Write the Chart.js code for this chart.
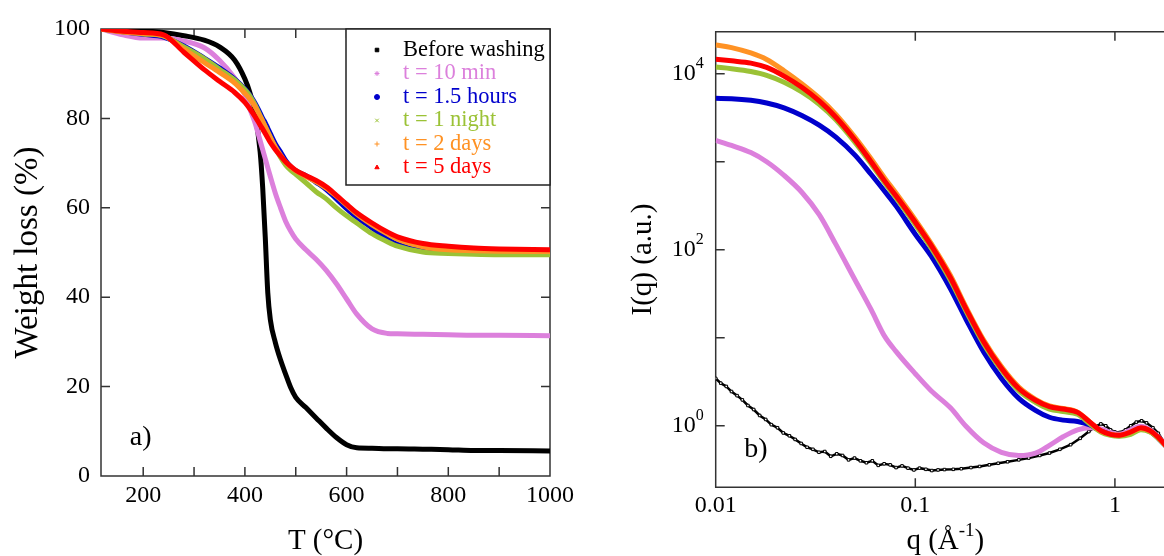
<!DOCTYPE html>
<html lang="en">
<head>
  <meta charset="UTF-8" />
  <title>TGA and SAXS vs washing time</title>
  <script src="https://cdn.jsdelivr.net/npm/chart.js"></script>
  <style>
    html, body { margin: 0; padding: 0; background: #fff; width: 1164px; height: 556px; overflow: hidden; }
    .panel { position: absolute; top: 0; height: 556px; }
    #tgaBox { left: 0; width: 580px; }
    #saxsBox { left: 580px; width: 625px; }
  </style>
</head>
<body>
  <!-- a) thermogravimetry -->
  <div class="panel" id="tgaBox"><canvas id="tgaChart" width="580" height="556"></canvas></div>
  <!-- b) scattering, right edge runs a bit past the window like the original figure -->
  <div class="panel" id="saxsBox"><canvas id="saxsChart" width="625" height="556"></canvas></div>

  <script>
    // ---- data: a) weight loss (%) on a shared temperature grid (°C)
    const tgaTemp = [117, 160, 200, 240, 280, 320, 350, 380, 400, 410, 420, 430, 435, 440, 445, 450, 460, 470, 480, 490,
                     500, 520, 540, 560, 580, 600, 620, 650, 680, 700, 750, 800, 850, 900, 1000];
    const wBefore   = [100, 99.8, 99.6, 99.2, 98.5, 97.5, 96.0, 93.0, 88.8, 85.7, 81.0, 72.5, 64.5, 53.5, 41.0, 35.0, 29.8, 26.0, 22.8, 19.8,
                       17.6, 15.3, 13.0, 10.7, 8.6, 7.0, 6.3, 6.2, 6.1, 6.1, 6.0, 5.9, 5.7, 5.7, 5.6];
    const wTenMin   = [100, 98.7, 98.0, 98.0, 97.3, 95.8, 93.0, 89.0, 85.3, 82.0, 79.0, 75.0, 73.0, 71.0, 69.0, 67.0, 63.2, 60.0, 57.0, 54.8,
                       53.0, 50.6, 48.5, 46.0, 43.0, 39.6, 36.2, 32.9, 31.9, 31.8, 31.7, 31.6, 31.5, 31.5, 31.4];
    const wHours    = [100, 99.4, 98.8, 98.2, 96.2, 93.5, 91.3, 88.8, 86.6, 85.2, 83.4, 81.2, 80.0, 79.0, 77.8, 76.6, 74.3, 72.5, 70.6, 69.2,
                       68.3, 67.2, 65.7, 64.1, 62.0, 59.8, 57.9, 55.5, 53.0, 51.8, 50.4, 50.2, 50.1, 50.0, 50.0];
    const wNight    = [100, 99.4, 98.9, 98.4, 96.0, 93.4, 91.0, 88.6, 86.4, 85.0, 83.0, 80.6, 79.4, 78.2, 77.0, 75.8, 73.4, 71.3, 69.6, 68.4,
                       67.5, 65.6, 63.6, 62.0, 60.0, 58.2, 56.6, 54.2, 52.4, 51.4, 50.1, 49.8, 49.6, 49.5, 49.5];
    const wTwoDays  = [100, 99.3, 99.0, 98.5, 95.5, 92.5, 90.3, 87.9, 85.6, 84.3, 82.6, 80.4, 79.3, 78.1, 76.9, 75.7, 73.6, 71.8, 70.2, 69.1,
                       68.3, 67.0, 65.8, 64.4, 62.6, 60.6, 58.6, 56.2, 54.2, 53.0, 51.3, 50.6, 50.4, 50.3, 50.2];
    const wFiveDays = [100, 99.5, 99.2, 98.7, 94.8, 90.9, 88.3, 85.8, 83.6, 82.1, 80.4, 78.5, 77.6, 76.6, 75.6, 74.6, 73.0, 71.6, 70.3, 69.3,
                       68.4, 67.2, 66.1, 64.7, 62.8, 60.8, 58.9, 56.6, 54.6, 53.5, 52.0, 51.4, 51.0, 50.8, 50.6];
    const tgaTempLabels = [200, 400, 600, 800, 1000];
    const tgaTempMarks = [200, 300, 400, 500, 600, 700, 800, 900];
    const tgaWeightLabels = [0, 20, 40, 60, 80, 100];

    // ---- data: b) I(q) on a shared q grid (1/Å), the unwashed sample is noisier and sampled on its own
    const saxsQ = [0.01, 0.012, 0.015, 0.018, 0.022, 0.027, 0.033, 0.04, 0.05, 0.06, 0.07, 0.08, 0.1, 0.12, 0.15, 0.18,
                   0.22, 0.27, 0.33, 0.4, 0.47, 0.55, 0.65, 0.75, 0.85, 0.95, 1.05, 1.2, 1.35, 1.5, 1.65, 1.85];
    const iTenMin   = [1750, 1530, 1270, 1000, 700, 450, 250, 115, 45, 21, 10.5, 7.0, 3.9, 2.5, 1.6, 0.98,
                       0.64, 0.5, 0.46, 0.49, 0.6, 0.75, 0.9, 0.95, 0.92, 0.84, 0.8, 0.9, 0.99, 0.9, 0.75, 0.55];
    const iHours    = [5250, 5200, 4980, 4650, 4100, 3350, 2600, 1900, 1180, 720, 465, 315, 150, 85, 36, 16,
                       6.9, 3.45, 2.05, 1.5, 1.25, 1.16, 1.12, 1.02, 0.87, 0.8, 0.77, 0.83, 0.92, 0.86, 0.72, 0.55];
    const iNight    = [11900, 11400, 10600, 9600, 8000, 6200, 4500, 3000, 1650, 950, 580, 390, 193, 105, 45, 19.8,
                       8.5, 4.3, 2.5, 1.85, 1.55, 1.45, 1.35, 1.05, 0.85, 0.78, 0.76, 0.8, 0.9, 0.85, 0.72, 0.55];
    const iTwoDays  = [21200, 19800, 17200, 14500, 10800, 7700, 5300, 3450, 1880, 1080, 660, 440, 218, 118, 51, 22,
                       9.4, 4.7, 2.75, 2.0, 1.68, 1.57, 1.43, 1.1, 0.87, 0.8, 0.78, 0.85, 0.93, 0.87, 0.73, 0.55];
    const iFiveDays = [14600, 14000, 13200, 11800, 9400, 7000, 4900, 3200, 1750, 1000, 610, 410, 205, 112, 48, 21,
                       9.0, 4.5, 2.65, 1.95, 1.65, 1.55, 1.42, 1.1, 0.88, 0.8, 0.78, 0.85, 0.95, 0.88, 0.74, 0.55];
    const saxsQBefore = [0.0100, 0.0106, 0.0113, 0.0120, 0.0128, 0.0136, 0.0145, 0.0155, 0.0166, 0.0178,
                         0.0190, 0.0204, 0.0218, 0.0234, 0.0250, 0.0268, 0.0287, 0.0307, 0.0329, 0.0352,
                         0.0377, 0.0404, 0.0432, 0.0463, 0.0496, 0.0531, 0.0569, 0.0609, 0.0652, 0.0698,
                         0.0748, 0.0801, 0.0858, 0.0919, 0.0984, 0.105, 0.113, 0.121, 0.130, 0.140,
                         0.155, 0.170, 0.190, 0.210, 0.235, 0.260, 0.290, 0.330, 0.370, 0.420,
                         0.470, 0.530, 0.600, 0.670, 0.740, 0.800, 0.850, 0.900, 0.950, 1.000,
                         1.060, 1.130, 1.200, 1.280, 1.360, 1.440, 1.550, 1.650, 1.750, 1.850];
    const iBefore = [3.45, 3.05, 2.8, 2.45, 2.2, 1.97, 1.7, 1.53, 1.31, 1.18,
                     1.03, 0.95, 0.83, 0.77, 0.70, 0.63, 0.57, 0.54, 0.50, 0.51,
                     0.45, 0.48, 0.46, 0.41, 0.43, 0.40, 0.38, 0.40, 0.355, 0.37,
                     0.36, 0.335, 0.35, 0.33, 0.315, 0.33, 0.32, 0.31, 0.315, 0.318,
                     0.32, 0.325, 0.335, 0.345, 0.36, 0.375, 0.39, 0.41, 0.43, 0.46,
                     0.49, 0.54, 0.61, 0.72, 0.86, 0.98, 1.05, 1.0, 0.9, 0.85,
                     0.84, 0.9, 1.0, 1.1, 1.14, 1.08, 0.95, 0.82, 0.67, 0.55];
    const saxsQLabels = [0.01, 0.1, 1];
    const saxsIntensityLabels = [1, 100, 10000];
    const saxsIntensityMarks = [1, 10, 100, 1000, 10000];

    const seriesLabels = ['Before washing', 't = 10 min', 't = 1.5 hours', 't = 1 night', 't = 2 days', 't = 5 days'];
    const seriesColors = ['#000000', '#dc80dc', '#0000cc', '#9bc236', '#ff9224', '#ff0000'];
    const seriesMarkers = ['rect', 'star', 'circle', 'crossRot', 'cross', 'triangle'];

    const serif = "'Liberation Serif', 'Times New Roman', serif";
    Chart.defaults.font.family = serif;
    Chart.defaults.color = '#000';

    function series(i, xs, ys) {
      return {
        label: seriesLabels[i],
        data: xs.map((x, k) => ({ x: x, y: ys[k] })),
        borderColor: seriesColors[i],
        backgroundColor: seriesColors[i],
        pointStyle: seriesMarkers[i],
        showLine: true,
        borderWidth: 5,
        pointRadius: 0,
        cubicInterpolationMode: 'monotone',
        order: 5 - i   // last series ends up on top
      };
    }

    // box frame with inward ticks on all four sides
    const frameTicks = {
      id: 'frameTicks',
      beforeDatasetsDraw(chart, args, o) {
        const { ctx, chartArea: a, scales } = chart;
        ctx.save();
        ctx.strokeStyle = o.color;
        ctx.lineWidth = o.width;
        ctx.beginPath();
        ctx.rect(a.left, a.top, a.right - a.left, a.bottom - a.top);
        o.xMarks.forEach(v => {
          const px = scales.x.getPixelForValue(v);
          ctx.moveTo(px, a.bottom); ctx.lineTo(px, a.bottom - o.length);
          ctx.moveTo(px, a.top); ctx.lineTo(px, a.top + o.length);
        });
        o.yMarks.forEach(v => {
          const py = scales.y.getPixelForValue(v);
          ctx.moveTo(a.left, py); ctx.lineTo(a.left + o.length, py);
          ctx.moveTo(a.right, py); ctx.lineTo(a.right - o.length, py);
        });
        ctx.stroke();
        ctx.restore();
      }
    };

    // legend box in the upper right corner of panel a
    const boxLegend = {
      id: 'boxLegend',
      afterDatasetsDraw(chart, args, o) {
        const { ctx, chartArea: a } = chart;
        ctx.save();
        ctx.fillStyle = '#fff';
        ctx.fillRect(o.left, a.top, a.right - o.left, o.bottom - a.top);
        ctx.strokeStyle = '#222';
        ctx.lineWidth = 1.5;
        ctx.strokeRect(o.left, a.top, a.right - o.left, o.bottom - a.top);
        ctx.font = o.font;
        ctx.textAlign = 'left';
        ctx.textBaseline = 'middle';
        chart.data.datasets.forEach((ds, i) => {
          const y = o.firstRow + i * o.rowGap;
          ctx.fillStyle = ds.borderColor;
          ctx.strokeStyle = ds.borderColor;
          ctx.lineWidth = 1;
          Chart.helpers.drawPoint(ctx, { pointStyle: ds.pointStyle, radius: 2.5, rotation: 0, borderWidth: 1 }, o.markerX, y);
          ctx.fillText(ds.label, o.textX, y);
        });
        ctx.restore();
      }
    };

    // "a)" / "b)" tag placed in data space
    const panelTag = {
      id: 'panelTag',
      afterDatasetsDraw(chart, args, o) {
        const { ctx, scales } = chart;
        ctx.save();
        ctx.font = o.font;
        ctx.fillStyle = '#000';
        ctx.textAlign = 'center';
        ctx.textBaseline = 'middle';
        ctx.fillText(o.text, scales.x.getPixelForValue(o.at[0]), scales.y.getPixelForValue(o.at[1]));
        ctx.restore();
      }
    };

    // 10^n tick labels and the q axis title need real superscripts
    const powerLabels = {
      id: 'powerLabels',
      afterDraw(chart, args, o) {
        const { ctx, chartArea: a, scales } = chart;
        ctx.save();
        ctx.fillStyle = '#000';
        ctx.textBaseline = 'middle';
        ctx.textAlign = 'left';
        saxsIntensityLabels.forEach(v => {
          const py = scales.y.getPixelForValue(v);
          const exp = String(Math.round(Math.log10(v)));
          ctx.font = o.supFont;
          const ew = ctx.measureText(exp).width;
          ctx.font = o.baseFont;
          const bw = ctx.measureText('10').width;
          const x0 = a.left - o.pad - ew - bw;
          ctx.fillText('10', x0, py);
          ctx.font = o.supFont;
          ctx.fillText(exp, x0 + bw, py - o.rise);
        });
        // q (Å^-1)
        const parts = [['q (Å', o.titleFont, 0], ['-1', o.titleSupFont, o.titleRise], [')', o.titleFont, 0]];
        let total = 0;
        parts.forEach(p => { ctx.font = p[1]; total += ctx.measureText(p[0]).width; });
        let x = (a.left + a.right) / 2 - total / 2;
        parts.forEach(p => {
          ctx.font = p[1];
          ctx.fillText(p[0], x, o.titleY - p[2]);
          x += ctx.measureText(p[0]).width;
        });
        ctx.restore();
      }
    };

    const hiddenGrid = { display: false, drawTicks: false };

    // ---- a) TGA
    new Chart(document.getElementById('tgaChart'), {
      type: 'scatter',
      data: {
        datasets: [
          series(0, tgaTemp, wBefore),
          series(1, tgaTemp, wTenMin),
          series(2, tgaTemp, wHours),
          series(3, tgaTemp, wNight),
          series(4, tgaTemp, wTwoDays),
          series(5, tgaTemp, wFiveDays)
        ]
      },
      options: {
        responsive: false,
        animation: false,
        events: [],
        layout: { padding: { top: 29, right: 30, left: 0, bottom: 0 } },
        scales: {
          x: {
            type: 'linear', min: 117, max: 1000,
            afterBuildTicks: s => { s.ticks = tgaTempLabels.map(v => ({ value: v })); },
            afterFit: s => { s.height = 80; },
            grid: hiddenGrid, border: { display: false },
            ticks: { font: { size: 24 }, padding: 5, maxRotation: 0, autoSkip: false, callback: v => String(v) },
            title: { display: true, text: 'T (°C)', font: { size: 29, lineHeight: 1 }, padding: 0 }
          },
          y: {
            min: 0, max: 100,
            afterBuildTicks: s => { s.ticks = tgaWeightLabels.map(v => ({ value: v })); },
            afterFit: s => { s.width = 101; },
            grid: hiddenGrid, border: { display: false },
            ticks: { font: { size: 24 }, padding: 11 },
            title: { display: true, text: 'Weight loss (%)', font: { size: 33 }, padding: { top: 9, bottom: 0 } }
          }
        },
        plugins: {
          legend: { display: false },
          tooltip: { enabled: false },
          frameTicks: { color: '#333', width: 1.5, length: 9, xMarks: tgaTempMarks, yMarks: tgaWeightLabels },
          boxLegend: { left: 346, bottom: 185, markerX: 377, textX: 403, firstRow: 50, rowGap: 23.5, font: '22.5px ' + serif },
          panelTag: { text: 'a)', at: [195, 8.5], font: '28px ' + serif }
        }
      },
      plugins: [frameTicks, boxLegend, panelTag]
    });

    // ---- b) SAXS
    const before = series(0, saxsQBefore, iBefore);
    before.borderWidth = 2.5;
    before.cubicInterpolationMode = 'default';
    before.tension = 0;
    before.pointRadius = 1.8;
    before.pointStyle = 'rect';
    before.pointBackgroundColor = '#fff';
    before.pointBorderColor = '#000';
    before.pointBorderWidth = 1;

    new Chart(document.getElementById('saxsChart'), {
      type: 'scatter',
      data: {
        datasets: [
          before,
          series(1, saxsQ, iTenMin),
          series(2, saxsQ, iHours),
          series(3, saxsQ, iNight),
          series(4, saxsQ, iTwoDays),
          series(5, saxsQ, iFiveDays)
        ]
      },
      options: {
        responsive: false,
        animation: false,
        events: [],
        layout: { padding: { top: 31.7, right: 30, left: 0, bottom: 0 } },
        scales: {
          x: {
            type: 'logarithmic', min: 0.01, max: 2,
            afterBuildTicks: s => { s.ticks = saxsQLabels.map(v => ({ value: v })); },
            afterFit: s => { s.height = 68.7; },
            grid: hiddenGrid, border: { display: false },
            ticks: { font: { size: 24 }, padding: 4, maxRotation: 0, autoSkip: false, callback: v => String(v) }
          },
          y: {
            type: 'logarithmic', min: 0.2, max: 30000,
            afterFit: s => { s.width = 135.7; },
            grid: hiddenGrid, border: { display: false },
            ticks: { display: false },
            title: { display: true, text: 'I(q) (a.u.)', font: { size: 29 }, padding: { top: 46, bottom: 0 } }
          }
        },
        plugins: {
          legend: { display: false },
          tooltip: { enabled: false },
          frameTicks: { color: '#333', width: 1.5, length: 9, xMarks: saxsQLabels, yMarks: saxsIntensityMarks },
          panelTag: { text: 'b)', at: [0.0159, 0.54], font: '28px ' + serif },
          powerLabels: {
            baseFont: '24px ' + serif, supFont: '16px ' + serif, pad: 12, rise: 10,
            titleFont: '29px ' + serif, titleSupFont: '19px ' + serif, titleRise: 11, titleY: 541.7
          }
        }
      },
      plugins: [frameTicks, panelTag, powerLabels]
    });
  </script>
</body>
</html>
